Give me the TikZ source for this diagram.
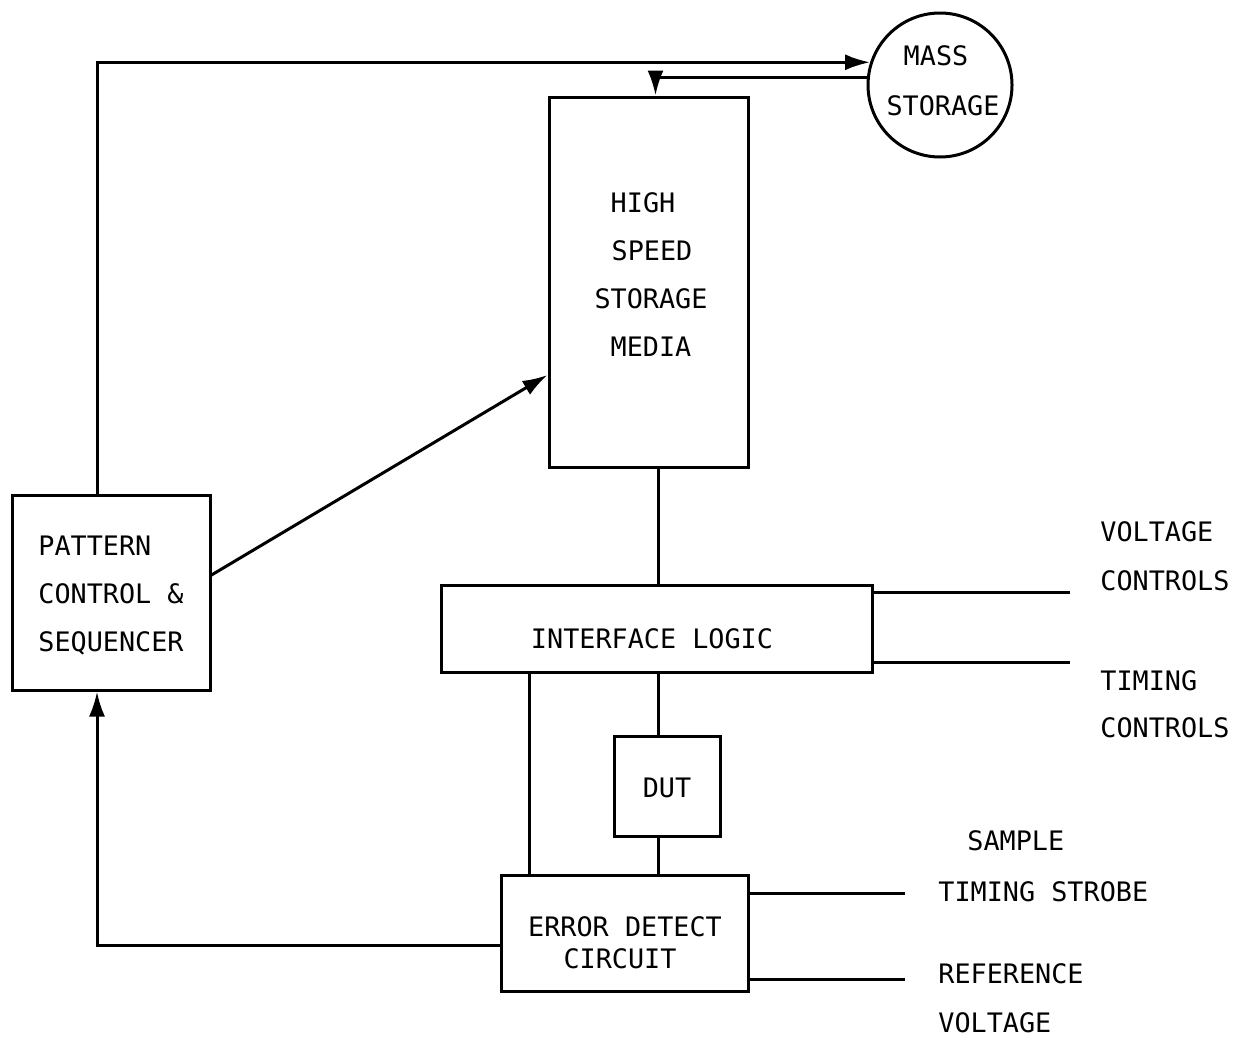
\documentclass[tikz,border=0pt]{standalone}
\usepackage{fontspec}
\setmonofont{DejaVu Sans Mono}
\usetikzlibrary{arrows.meta,calc}
\begin{document}
\begin{tikzpicture}[x=0.5pt,y=-0.5pt,
  every node/.style={font=\ttfamily\fontsize{13.4pt}{24pt}\selectfont},
  blk/.style={draw,line width=1.5pt,inner sep=0pt},
  wire/.style={line width=1.5pt},
  arr/.style={wire,-{Latex[length=12.5pt,width=8pt]}},
  txt/.style={anchor=base,inner sep=0pt},
  lbl/.style={anchor=base west,inner sep=0pt}]
\useasboundingbox (0,0) rectangle (1235,1039);
% blocks
\node[blk,minimum width=99pt,minimum height=97.5pt] (pc) at (111,592.5) {};
\node[blk,minimum width=99.5pt,minimum height=185pt] (hss) at (648.5,282) {};
\node[blk,circle,minimum size=72pt] (ms) at (940,85) {};
\node[blk,minimum width=215.5pt,minimum height=43.5pt] (il) at (656.5,628.5) {};
\node[blk,minimum width=53pt,minimum height=50pt] (dut) at (667,786) {};
\node[blk,minimum width=123.5pt,minimum height=58pt] (ed) at (624.5,933) {};
% block texts
\node[lbl] (pc1) at (38,555) {PATTERN};
\node[lbl] (pc2) at (38,603) {CONTROL \&};
\node[lbl] (pc3) at (38,651) {SEQUENCER};
\node[txt] (h1) at (643,212) {HIGH};
\node[txt] (h2) at (652,260) {SPEED};
\node[txt] (h3) at (651,308) {STORAGE};
\node[txt] (h4) at (651,356) {MEDIA};
\node[txt] (m1) at (936,65) {MASS};
\node[txt] (m2) at (943,115) {STORAGE};
\node[txt] (il1) at (652,648) {INTERFACE LOGIC};
\node[txt] (d1) at (667,797) {DUT};
\node[txt] (e1) at (625,936) {ERROR DETECT};
\node[txt] (e2) at (620,968) {CIRCUIT};
% coordinates
\coordinate (lx) at (97,63);
\coordinate (cx) at (658,0);
\coordinate (ex) at (529,0);
\coordinate (vc) at (1070,592);
\coordinate (tc) at (1070,662);
\coordinate (ts) at (905,893);
\coordinate (rv) at (905,979);
\coordinate (fb) at (0,945);
% connectors
\draw[arr] (pc.north -| lx) |- (ms.162);
\draw[arr] (ms.174) -| ([xshift=3.5pt]hss.north);
\draw[arr] ([yshift=8.75pt]pc.east) -- ([yshift=-46.5pt]hss.west);
\draw[wire] (hss.south -| cx) -- (il.north -| cx);
\draw[wire] (il.south -| cx) -- (dut.north -| cx);
\draw[wire] (dut.south -| cx) -- (ed.north -| cx);
\draw[wire] (il.south -| ex) -- (ed.north -| ex);
\draw[wire] (il.east |- vc) -- (vc);
\draw[wire] (il.east |- tc) -- (tc);
\draw[wire] (ed.east |- ts) -- (ts);
\draw[wire] (ed.east |- rv) -- (rv);
\draw[arr] (ed.west |- fb) -| (pc.south -| lx);
% side labels
\node[lbl] (l1) at (1100,541) {VOLTAGE};
\node[lbl] (l2) at (1100,590) {CONTROLS};
\node[lbl] (l3) at (1100,690) {TIMING};
\node[lbl] (l4) at (1100,737) {CONTROLS};
\node[lbl] (l5) at (967,850) {SAMPLE};
\node[lbl] (l6) at (938,901) {TIMING STROBE};
\node[lbl] (l7) at (938,983) {REFERENCE};
\node[lbl] (l8) at (938,1032) {VOLTAGE};
\end{tikzpicture}
\end{document}
